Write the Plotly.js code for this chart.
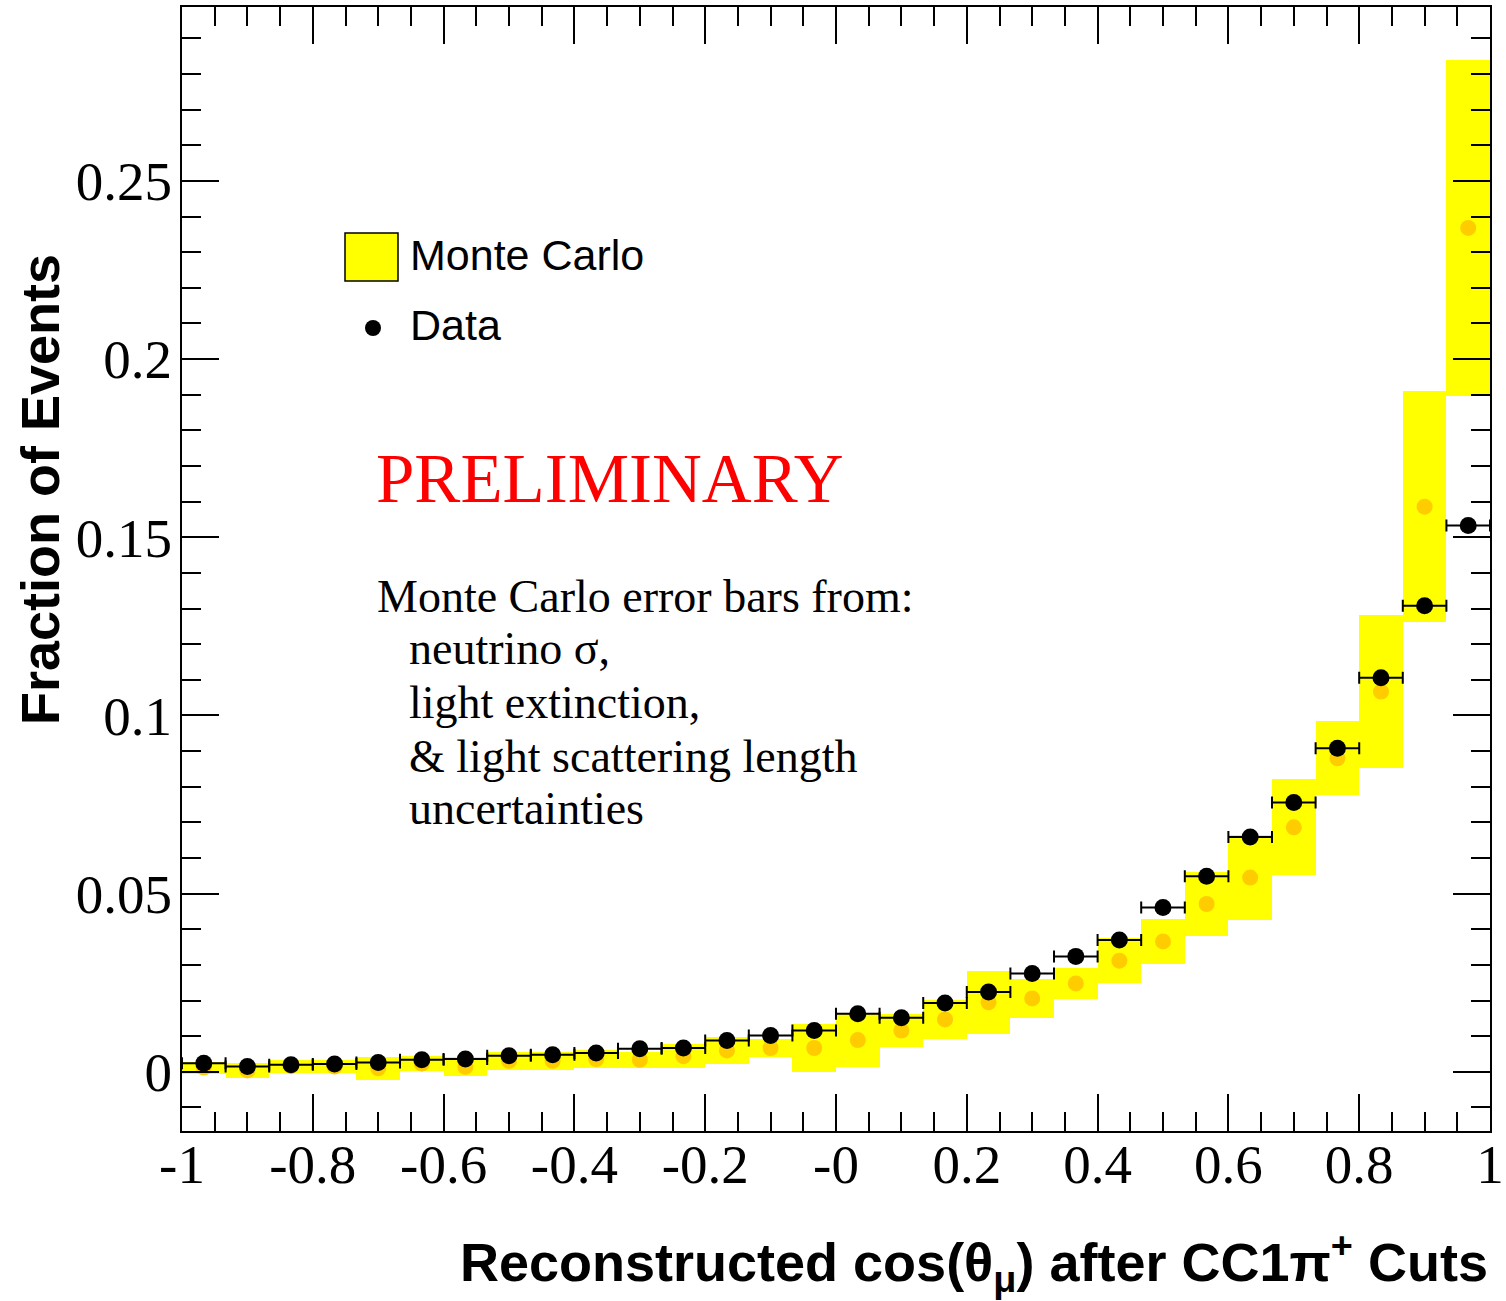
<!DOCTYPE html>
<html>
<head>
<meta charset="utf-8">
<script src="https://cdn.plot.ly/plotly-3.0.1.min.js"></script>
<style>
  html, body { margin: 0; padding: 0; background: #fff; }
  #chart { width: 1506px; height: 1301px; }
</style>
</head>
<body>
<div id="chart"></div>
<script>
// Reconstructed cos(theta_mu) distribution, 30 bins from -1 to 1
const binCenters = [-0.9667, -0.9, -0.8333, -0.7667, -0.7, -0.6333, -0.5667, -0.5, -0.4333, -0.3667,
                    -0.3, -0.2333, -0.1667, -0.1, -0.0333, 0.0333, 0.1, 0.1667, 0.2333, 0.3,
                    0.3667, 0.4333, 0.5, 0.5667, 0.6333, 0.7, 0.7667, 0.8333, 0.9, 0.9667];
const binHalfWidth = 1 / 30;

// Data: fraction of events per bin
const dataValues = [0.0024, 0.0015, 0.0020, 0.0022, 0.0026, 0.0034, 0.0036, 0.0045, 0.0048, 0.0053,
                    0.0065, 0.0067, 0.0088, 0.0102, 0.0116, 0.0163, 0.0152, 0.0193, 0.0224, 0.0276,
                    0.0324, 0.0370, 0.0461, 0.0549, 0.0659, 0.0756, 0.0908, 0.1106, 0.1308, 0.1533];

// Monte Carlo prediction and its systematic uncertainty
const mcValues = [0.0012, 0.0004, 0.0016, 0.0015, 0.0010, 0.0023, 0.0014, 0.0031, 0.0031, 0.0036,
                  0.0034, 0.0044, 0.0060, 0.0067, 0.0067, 0.0089, 0.0116, 0.0147, 0.0195, 0.0206,
                  0.0248, 0.0312, 0.0366, 0.0471, 0.0545, 0.0686, 0.0880, 0.1067, 0.1586, 0.2368];
const mcErrors = [0.0017, 0.0022, 0.0018, 0.0017, 0.0033, 0.0022, 0.0027, 0.0026, 0.0026, 0.0026,
                  0.0023, 0.0033, 0.0038, 0.0025, 0.0067, 0.0076, 0.0045, 0.0055, 0.0089, 0.0055,
                  0.0044, 0.0063, 0.0064, 0.0089, 0.0119, 0.0135, 0.0104, 0.0215, 0.0325, 0.0471];

const xTickVals = [-1, -0.8, -0.6, -0.4, -0.2, 0, 0.2, 0.4, 0.6, 0.8, 1];
const xTickText = ['-1', '-0.8', '-0.6', '-0.4', '-0.2', '-0', '0.2', '0.4', '0.6', '0.8', '1'];
const yTickVals = [0, 0.05, 0.1, 0.15, 0.2, 0.25];
const yTickText = ['0', '0.05', '0.1', '0.15', '0.2', '0.25'];

const SERIF = 'Liberation Serif, Times New Roman, serif';
const SANS = 'Liberation Sans, Arial, Helvetica, sans-serif';

// Yellow error band: one box per bin spanning value +/- error
const mcBand = {
  type: 'bar',
  x: binCenters,
  base: mcValues.map((v, i) => v - mcErrors[i]),
  y: mcErrors.map(e => 2 * e),
  width: binCenters.map(() => 2 * binHalfWidth),
  marker: { color: '#ffff00', line: { width: 0 } },
  showlegend: false,
  hoverinfo: 'skip'
};

// Monte Carlo central values
const mcPoints = {
  type: 'scatter',
  mode: 'markers',
  x: binCenters,
  y: mcValues,
  marker: { color: '#ffcc00', size: 16, symbol: 'circle' },
  showlegend: false,
  hoverinfo: 'skip'
};

// Data points with bin-width horizontal bars
const dataPoints = {
  type: 'scatter',
  mode: 'markers',
  x: binCenters,
  y: dataValues,
  error_x: {
    type: 'data',
    array: binCenters.map(() => binHalfWidth),
    visible: true,
    color: '#000',
    thickness: 2,
    width: 6
  },
  marker: { color: '#000', size: 17, symbol: 'circle' },
  showlegend: false,
  hoverinfo: 'skip'
};

// pixel -> paper helpers for the plotting frame (182..1490 x 7..1131)
const PX0 = 182, PX1 = 1490, PY0 = 7, PY1 = 1131;
const px = v => (v - PX0) / (PX1 - PX0);
const py = v => (PY1 - v) / (PY1 - PY0);

const noteLines = [
  { text: 'Monte Carlo error bars from:', x: 378, y: 596 },
  { text: 'neutrino σ,', x: 410, y: 648 },
  { text: 'light extinction,', x: 410, y: 702 },
  { text: '&amp; light scattering length', x: 410, y: 756 },
  { text: 'uncertainties', x: 410, y: 808 }
];

const annotations = [
  {
    text: 'PRELIMINARY', xref: 'paper', yref: 'paper',
    x: px(374), y: py(479), xanchor: 'left', yanchor: 'middle',
    showarrow: false, font: { family: SERIF, size: 69, color: '#ff0000' }
  },
  ...noteLines.map(l => ({
    text: l.text, xref: 'paper', yref: 'paper',
    x: px(l.x - 3), y: py(l.y), xanchor: 'left', yanchor: 'middle',
    showarrow: false, font: { family: SERIF, size: 46, color: '#000' }
  })),
  {
    text: 'Monte Carlo', xref: 'paper', yref: 'paper',
    x: px(408), y: py(255), xanchor: 'left', yanchor: 'middle',
    showarrow: false, font: { family: SANS, size: 43, color: '#000' }
  },
  {
    text: 'Data', xref: 'paper', yref: 'paper',
    x: px(408), y: py(325), xanchor: 'left', yanchor: 'middle',
    showarrow: false, font: { family: SANS, size: 43, color: '#000' }
  },
  {
    text: '<b>Reconstructed cos(θ<sub>μ</sub>) after CC1π<sup>+</sup> Cuts</b>',
    xref: 'paper', yref: 'paper',
    x: 1, y: py(1262), xanchor: 'right', yanchor: 'middle',
    showarrow: false, font: { family: SANS, size: 54, color: '#000' }
  },
  {
    text: '<b>Fraction of Events</b>',
    xref: 'paper', yref: 'paper', textangle: -90,
    x: px(40), y: py(490), xanchor: 'center', yanchor: 'middle',
    showarrow: false, font: { family: SANS, size: 54, color: '#000' }
  }
];

const shapes = [
  // legend swatch for the Monte Carlo band
  {
    type: 'rect', xref: 'paper', yref: 'paper',
    x0: px(345), x1: px(398), y0: py(281), y1: py(233),
    fillcolor: '#ffff00', line: { color: '#000', width: 1.5 }
  },
  // legend marker for the data
  {
    type: 'circle', xref: 'paper', yref: 'paper',
    xsizemode: 'pixel', ysizemode: 'pixel',
    xanchor: px(373), yanchor: py(328),
    x0: -8, x1: 8, y0: -8, y1: 8,
    fillcolor: '#000', line: { color: '#000', width: 0 }
  }
];

const axisCommon = {
  showgrid: false,
  zeroline: false,
  showline: true,
  linecolor: '#000',
  linewidth: 2,
  mirror: 'allticks',
  ticks: 'inside',
  ticklen: 37,
  tickwidth: 2,
  tickcolor: '#000',
  tickmode: 'array',
  tickfont: { family: SERIF, size: 55, color: '#000' }
};

const layout = {
  width: 1506,
  height: 1301,
  margin: { l: PX0, r: 1506 - PX1, t: PY0, b: 1301 - PY1 },
  paper_bgcolor: '#fff',
  plot_bgcolor: '#fff',
  showlegend: false,
  barmode: 'overlay',
  bargap: 0,
  xaxis: Object.assign({}, axisCommon, {
    range: [-1, 1],
    tickvals: xTickVals,
    ticktext: xTickText,
    ticklabelstandoff: -16,
    minor: { dtick: 0.05, tick0: 0, ticks: 'inside', ticklen: 19, tickwidth: 2, tickcolor: '#000' }
  }),
  yaxis: Object.assign({}, axisCommon, {
    range: [-0.0166, 0.2988],
    tickvals: yTickVals,
    ticktext: yTickText,
    ticklabelstandoff: -3,
    minor: { dtick: 0.01, tick0: 0, ticks: 'inside', ticklen: 19, tickwidth: 2, tickcolor: '#000' }
  }),
  annotations: annotations,
  shapes: shapes
};

Plotly.newPlot('chart', [mcBand, mcPoints, dataPoints], layout, { displayModeBar: false, staticPlot: true });
</script>
</body>
</html>
